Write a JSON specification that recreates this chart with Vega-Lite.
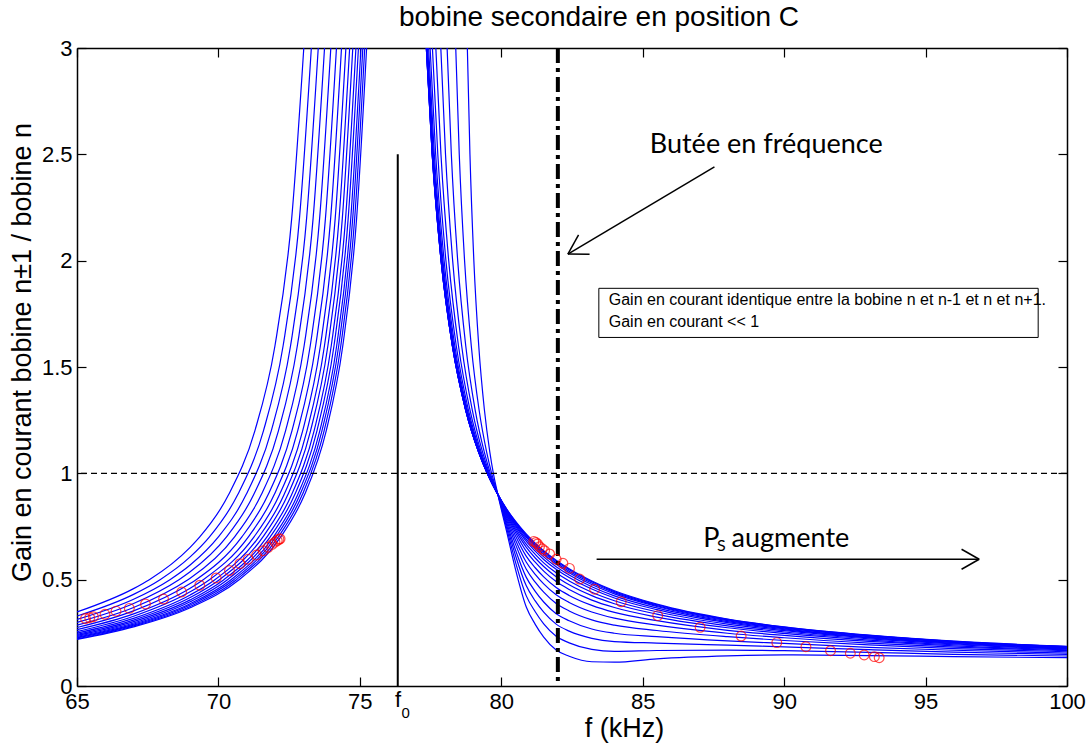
{
"$schema": "https://vega.github.io/schema/vega-lite/v6.json",
"width": 990, "height": 638,
"autosize": {"type": "none"},
"padding": {"left": 77, "top": 48, "right": 21, "bottom": 58},
"background": "white",
"config": {"view": {"stroke": null}, "font": "Liberation Sans",
 "axis": {"grid": false, "domainColor": "black", "domainWidth": 1.5, "tickColor": "black", "tickWidth": 1.2, "tickSize": -9, "labelColor": "black", "labelFont": "Liberation Sans", "labelFontSize": 22, "titleFont": "Liberation Sans", "titleFontSize": 27, "titleFontWeight": "normal", "titleColor": "black", "labelFlush": false, "labelOverlap": false}},
"title": {"text": "bobine secondaire en position C", "font": "Liberation Sans", "fontSize": 28, "fontWeight": "normal", "color": "black", "frame": "group", "offset": 5, "dx": 27},
"datasets": {
"curves": [
{"k":"L0","x":65,"y":0.348},{"k":"L0","x":67,"y":0.458},{"k":"L0","x":67.556,"y":0.5},{"k":"L0","x":69,"y":0.652},{"k":"L0","x":69.333,"y":0.7},{"k":"L0","x":70.362,"y":0.9},{"k":"L0","x":71.288,"y":1.2},{"k":"L0","x":71.999,"y":1.6},{"k":"L0","x":72.591,"y":2.2},{"k":"L0","x":73.018,"y":3},
{"k":"L1","x":65,"y":0.329},{"k":"L1","x":67,"y":0.431},{"k":"L1","x":67.937,"y":0.5},{"k":"L1","x":69,"y":0.607},{"k":"L1","x":69.677,"y":0.7},{"k":"L1","x":70.684,"y":0.9},{"k":"L1","x":71.591,"y":1.2},{"k":"L1","x":72.287,"y":1.6},{"k":"L1","x":72.866,"y":2.2},{"k":"L1","x":73.285,"y":3},
{"k":"L2","x":65,"y":0.313},{"k":"L2","x":67,"y":0.408},{"k":"L2","x":68.286,"y":0.5},{"k":"L2","x":69,"y":0.569},{"k":"L2","x":69.991,"y":0.7},{"k":"L2","x":70.979,"y":0.9},{"k":"L2","x":71.868,"y":1.2},{"k":"L2","x":72.55,"y":1.6},{"k":"L2","x":73.118,"y":2.2},{"k":"L2","x":73.529,"y":3},
{"k":"L3","x":65,"y":0.299},{"k":"L3","x":67,"y":0.388},{"k":"L3","x":68.605,"y":0.5},{"k":"L3","x":69,"y":0.537},{"k":"L3","x":70.279,"y":0.7},{"k":"L3","x":71.248,"y":0.9},{"k":"L3","x":72.121,"y":1.2},{"k":"L3","x":72.79,"y":1.6},{"k":"L3","x":73.348,"y":2.2},{"k":"L3","x":73.751,"y":3},
{"k":"L4","x":65,"y":0.286},{"k":"L4","x":67,"y":0.369},{"k":"L4","x":68.922,"y":0.5},{"k":"L4","x":69,"y":0.507},{"k":"L4","x":70.565,"y":0.7},{"k":"L4","x":71.517,"y":0.9},{"k":"L4","x":72.373,"y":1.2},{"k":"L4","x":73.03,"y":1.6},{"k":"L4","x":73.578,"y":2.2},{"k":"L4","x":73.973,"y":3},
{"k":"L5","x":65,"y":0.275},{"k":"L5","x":67,"y":0.353},{"k":"L5","x":69,"y":0.482},{"k":"L5","x":69.207,"y":0.5},{"k":"L5","x":70.822,"y":0.7},{"k":"L5","x":71.758,"y":0.9},{"k":"L5","x":72.599,"y":1.2},{"k":"L5","x":73.246,"y":1.6},{"k":"L5","x":73.784,"y":2.2},{"k":"L5","x":74.173,"y":3},
{"k":"L6","x":65,"y":0.265},{"k":"L6","x":67,"y":0.339},{"k":"L6","x":69,"y":0.46},{"k":"L6","x":69.462,"y":0.5},{"k":"L6","x":71.053,"y":0.7},{"k":"L6","x":71.973,"y":0.9},{"k":"L6","x":72.802,"y":1.2},{"k":"L6","x":73.438,"y":1.6},{"k":"L6","x":73.968,"y":2.2},{"k":"L6","x":74.351,"y":3},
{"k":"L7","x":65,"y":0.256},{"k":"L7","x":67,"y":0.328},{"k":"L7","x":69,"y":0.443},{"k":"L7","x":69.683,"y":0.5},{"k":"L7","x":71.252,"y":0.7},{"k":"L7","x":72.161,"y":0.9},{"k":"L7","x":72.978,"y":1.2},{"k":"L7","x":73.606,"y":1.6},{"k":"L7","x":74.129,"y":2.2},{"k":"L7","x":74.506,"y":3},
{"k":"L8","x":65,"y":0.249},{"k":"L8","x":67,"y":0.318},{"k":"L8","x":69,"y":0.428},{"k":"L8","x":69.874,"y":0.5},{"k":"L8","x":71.424,"y":0.7},{"k":"L8","x":72.322,"y":0.9},{"k":"L8","x":73.129,"y":1.2},{"k":"L8","x":73.749,"y":1.6},{"k":"L8","x":74.266,"y":2.2},{"k":"L8","x":74.639,"y":3},
{"k":"L9","x":65,"y":0.243},{"k":"L9","x":67,"y":0.31},{"k":"L9","x":69,"y":0.416},{"k":"L9","x":70.034,"y":0.5},{"k":"L9","x":71.568,"y":0.7},{"k":"L9","x":72.456,"y":0.9},{"k":"L9","x":73.256,"y":1.2},{"k":"L9","x":73.87,"y":1.6},{"k":"L9","x":74.381,"y":2.2},{"k":"L9","x":74.75,"y":3},
{"k":"L10","x":65,"y":0.238},{"k":"L10","x":67,"y":0.303},{"k":"L10","x":69,"y":0.405},{"k":"L10","x":70.192,"y":0.5},{"k":"L10","x":71.711,"y":0.7},{"k":"L10","x":72.59,"y":0.9},{"k":"L10","x":73.382,"y":1.2},{"k":"L10","x":73.989,"y":1.6},{"k":"L10","x":74.496,"y":2.2},{"k":"L10","x":74.861,"y":3},
{"k":"L11","x":65,"y":0.233},{"k":"L11","x":67,"y":0.296},{"k":"L11","x":69,"y":0.396},{"k":"L11","x":70.32,"y":0.5},{"k":"L11","x":71.826,"y":0.7},{"k":"L11","x":72.699,"y":0.9},{"k":"L11","x":73.483,"y":1.2},{"k":"L11","x":74.086,"y":1.6},{"k":"L11","x":74.588,"y":2.2},{"k":"L11","x":74.95,"y":3},
{"k":"L12","x":65,"y":0.229},{"k":"L12","x":67,"y":0.291},{"k":"L12","x":69,"y":0.387},{"k":"L12","x":70.445,"y":0.5},{"k":"L12","x":71.94,"y":0.7},{"k":"L12","x":72.805,"y":0.9},{"k":"L12","x":73.583,"y":1.2},{"k":"L12","x":74.181,"y":1.6},{"k":"L12","x":74.679,"y":2.2},{"k":"L12","x":75.039,"y":3},
{"k":"L13","x":65,"y":0.226},{"k":"L13","x":67,"y":0.286},{"k":"L13","x":69,"y":0.381},{"k":"L13","x":70.542,"y":0.5},{"k":"L13","x":72.026,"y":0.7},{"k":"L13","x":72.886,"y":0.9},{"k":"L13","x":73.659,"y":1.2},{"k":"L13","x":74.253,"y":1.6},{"k":"L13","x":74.748,"y":2.2},{"k":"L13","x":75.105,"y":3},
{"k":"L14","x":65,"y":0.222},{"k":"L14","x":67,"y":0.282},{"k":"L14","x":69,"y":0.374},{"k":"L14","x":70.637,"y":0.5},{"k":"L14","x":72.113,"y":0.7},{"k":"L14","x":72.967,"y":0.9},{"k":"L14","x":73.736,"y":1.2},{"k":"L14","x":74.326,"y":1.6},{"k":"L14","x":74.818,"y":2.2},{"k":"L14","x":75.172,"y":3},
{"k":"L15","x":65,"y":0.219},{"k":"L15","x":67,"y":0.278},{"k":"L15","x":69,"y":0.368},{"k":"L15","x":70.732,"y":0.5},{"k":"L15","x":72.198,"y":0.7},{"k":"L15","x":73.047,"y":0.9},{"k":"L15","x":73.811,"y":1.2},{"k":"L15","x":74.397,"y":1.6},{"k":"L15","x":74.886,"y":2.2},{"k":"L15","x":75.239,"y":3},
{"k":"R0","x":78.8,"y":3},{"k":"R0","x":78.892,"y":2.5},{"k":"R0","x":79.03,"y":2},{"k":"R0","x":79.203,"y":1.6},{"k":"R0","x":79.402,"y":1.3},{"k":"R0","x":79.595,"y":1.1},{"k":"R0","x":79.72,"y":1},{"k":"R0","x":79.88,"y":0.9},{"k":"R0","x":80.2,"y":0.72},{"k":"R0","x":80.5,"y":0.55},{"k":"R0","x":80.88,"y":0.373},{"k":"R0","x":81.2,"y":0.29},{"k":"R0","x":81.5,"y":0.23},{"k":"R0","x":81.94,"y":0.169},{"k":"R0","x":82.4,"y":0.14},{"k":"R0","x":83.2,"y":0.114},{"k":"R0","x":84,"y":0.112},{"k":"R0","x":85.5,"y":0.128},{"k":"R0","x":88,"y":0.142},{"k":"R0","x":90,"y":0.146},{"k":"R0","x":93,"y":0.143},{"k":"R0","x":96,"y":0.138},{"k":"R0","x":100,"y":0.133},
{"k":"R1","x":78.39,"y":3},{"k":"R1","x":78.514,"y":2.5},{"k":"R1","x":78.702,"y":2},{"k":"R1","x":78.939,"y":1.6},{"k":"R1","x":79.213,"y":1.3},{"k":"R1","x":79.483,"y":1.1},{"k":"R1","x":79.659,"y":1},{"k":"R1","x":79.88,"y":0.9},{"k":"R1","x":80.2,"y":0.737},{"k":"R1","x":80.5,"y":0.584},{"k":"R1","x":80.88,"y":0.425},{"k":"R1","x":81.2,"y":0.349},{"k":"R1","x":81.5,"y":0.292},{"k":"R1","x":81.94,"y":0.234},{"k":"R1","x":82.4,"y":0.203},{"k":"R1","x":83.2,"y":0.172},{"k":"R1","x":84,"y":0.163},{"k":"R1","x":85.5,"y":0.167},{"k":"R1","x":88,"y":0.169},{"k":"R1","x":90,"y":0.166},{"k":"R1","x":93,"y":0.158},{"k":"R1","x":96,"y":0.149},{"k":"R1","x":100,"y":0.141},
{"k":"R2","x":78.085,"y":3},{"k":"R2","x":78.234,"y":2.5},{"k":"R2","x":78.459,"y":2},{"k":"R2","x":78.743,"y":1.6},{"k":"R2","x":79.074,"y":1.3},{"k":"R2","x":79.4,"y":1.1},{"k":"R2","x":79.613,"y":1},{"k":"R2","x":79.88,"y":0.9},{"k":"R2","x":80.2,"y":0.752},{"k":"R2","x":80.5,"y":0.615},{"k":"R2","x":80.88,"y":0.472},{"k":"R2","x":81.2,"y":0.4},{"k":"R2","x":81.5,"y":0.347},{"k":"R2","x":81.94,"y":0.291},{"k":"R2","x":82.4,"y":0.258},{"k":"R2","x":83.2,"y":0.224},{"k":"R2","x":84,"y":0.209},{"k":"R2","x":85.5,"y":0.202},{"k":"R2","x":88,"y":0.192},{"k":"R2","x":90,"y":0.184},{"k":"R2","x":93,"y":0.171},{"k":"R2","x":96,"y":0.159},{"k":"R2","x":100,"y":0.148},
{"k":"R3","x":77.862,"y":3},{"k":"R3","x":78.028,"y":2.5},{"k":"R3","x":78.281,"y":2},{"k":"R3","x":78.599,"y":1.6},{"k":"R3","x":78.972,"y":1.3},{"k":"R3","x":79.339,"y":1.1},{"k":"R3","x":79.58,"y":1},{"k":"R3","x":79.88,"y":0.9},{"k":"R3","x":80.2,"y":0.765},{"k":"R3","x":80.5,"y":0.641},{"k":"R3","x":80.88,"y":0.512},{"k":"R3","x":81.2,"y":0.445},{"k":"R3","x":81.5,"y":0.395},{"k":"R3","x":81.94,"y":0.34},{"k":"R3","x":82.4,"y":0.307},{"k":"R3","x":83.2,"y":0.268},{"k":"R3","x":84,"y":0.248},{"k":"R3","x":85.5,"y":0.232},{"k":"R3","x":88,"y":0.212},{"k":"R3","x":90,"y":0.2},{"k":"R3","x":93,"y":0.182},{"k":"R3","x":96,"y":0.168},{"k":"R3","x":100,"y":0.155},
{"k":"R4","x":77.686,"y":3},{"k":"R4","x":77.867,"y":2.5},{"k":"R4","x":78.141,"y":2},{"k":"R4","x":78.486,"y":1.6},{"k":"R4","x":78.891,"y":1.3},{"k":"R4","x":79.291,"y":1.1},{"k":"R4","x":79.553,"y":1},{"k":"R4","x":79.88,"y":0.9},{"k":"R4","x":80.2,"y":0.777},{"k":"R4","x":80.5,"y":0.667},{"k":"R4","x":80.88,"y":0.55},{"k":"R4","x":81.2,"y":0.488},{"k":"R4","x":81.5,"y":0.441},{"k":"R4","x":81.94,"y":0.388},{"k":"R4","x":82.4,"y":0.353},{"k":"R4","x":83.2,"y":0.311},{"k":"R4","x":84,"y":0.286},{"k":"R4","x":85.5,"y":0.261},{"k":"R4","x":88,"y":0.232},{"k":"R4","x":90,"y":0.214},{"k":"R4","x":93,"y":0.193},{"k":"R4","x":96,"y":0.176},{"k":"R4","x":100,"y":0.161},
{"k":"R5","x":77.565,"y":3},{"k":"R5","x":77.755,"y":2.5},{"k":"R5","x":78.043,"y":2},{"k":"R5","x":78.408,"y":1.6},{"k":"R5","x":78.835,"y":1.3},{"k":"R5","x":79.258,"y":1.1},{"k":"R5","x":79.535,"y":1},{"k":"R5","x":79.88,"y":0.9},{"k":"R5","x":80.2,"y":0.788},{"k":"R5","x":80.5,"y":0.688},{"k":"R5","x":80.88,"y":0.583},{"k":"R5","x":81.2,"y":0.525},{"k":"R5","x":81.5,"y":0.48},{"k":"R5","x":81.94,"y":0.429},{"k":"R5","x":82.4,"y":0.393},{"k":"R5","x":83.2,"y":0.348},{"k":"R5","x":84,"y":0.319},{"k":"R5","x":85.5,"y":0.286},{"k":"R5","x":88,"y":0.248},{"k":"R5","x":90,"y":0.227},{"k":"R5","x":93,"y":0.202},{"k":"R5","x":96,"y":0.183},{"k":"R5","x":100,"y":0.166},
{"k":"R6","x":77.483,"y":3},{"k":"R6","x":77.68,"y":2.5},{"k":"R6","x":77.979,"y":2},{"k":"R6","x":78.356,"y":1.6},{"k":"R6","x":78.798,"y":1.3},{"k":"R6","x":79.235,"y":1.1},{"k":"R6","x":79.523,"y":1},{"k":"R6","x":79.88,"y":0.9},{"k":"R6","x":80.2,"y":0.797},{"k":"R6","x":80.5,"y":0.707},{"k":"R6","x":80.88,"y":0.611},{"k":"R6","x":81.2,"y":0.556},{"k":"R6","x":81.5,"y":0.513},{"k":"R6","x":81.94,"y":0.463},{"k":"R6","x":82.4,"y":0.426},{"k":"R6","x":83.2,"y":0.379},{"k":"R6","x":84,"y":0.346},{"k":"R6","x":85.5,"y":0.307},{"k":"R6","x":88,"y":0.262},{"k":"R6","x":90,"y":0.238},{"k":"R6","x":93,"y":0.21},{"k":"R6","x":96,"y":0.189},{"k":"R6","x":100,"y":0.17},
{"k":"R7","x":77.431,"y":3},{"k":"R7","x":77.632,"y":2.5},{"k":"R7","x":77.937,"y":2},{"k":"R7","x":78.322,"y":1.6},{"k":"R7","x":78.774,"y":1.3},{"k":"R7","x":79.221,"y":1.1},{"k":"R7","x":79.515,"y":1},{"k":"R7","x":79.88,"y":0.9},{"k":"R7","x":80.2,"y":0.804},{"k":"R7","x":80.5,"y":0.722},{"k":"R7","x":80.88,"y":0.634},{"k":"R7","x":81.2,"y":0.582},{"k":"R7","x":81.5,"y":0.54},{"k":"R7","x":81.94,"y":0.491},{"k":"R7","x":82.4,"y":0.454},{"k":"R7","x":83.2,"y":0.404},{"k":"R7","x":84,"y":0.369},{"k":"R7","x":85.5,"y":0.324},{"k":"R7","x":88,"y":0.274},{"k":"R7","x":90,"y":0.247},{"k":"R7","x":93,"y":0.216},{"k":"R7","x":96,"y":0.194},{"k":"R7","x":100,"y":0.173},
{"k":"R8","x":77.398,"y":3},{"k":"R8","x":77.601,"y":2.5},{"k":"R8","x":77.91,"y":2},{"k":"R8","x":78.301,"y":1.6},{"k":"R8","x":78.759,"y":1.3},{"k":"R8","x":79.212,"y":1.1},{"k":"R8","x":79.51,"y":1},{"k":"R8","x":79.88,"y":0.9},{"k":"R8","x":80.2,"y":0.81},{"k":"R8","x":80.5,"y":0.734},{"k":"R8","x":80.88,"y":0.653},{"k":"R8","x":81.2,"y":0.602},{"k":"R8","x":81.5,"y":0.562},{"k":"R8","x":81.94,"y":0.514},{"k":"R8","x":82.4,"y":0.476},{"k":"R8","x":83.2,"y":0.425},{"k":"R8","x":84,"y":0.387},{"k":"R8","x":85.5,"y":0.338},{"k":"R8","x":88,"y":0.283},{"k":"R8","x":90,"y":0.254},{"k":"R8","x":93,"y":0.222},{"k":"R8","x":96,"y":0.198},{"k":"R8","x":100,"y":0.176},
{"k":"R9","x":77.378,"y":3},{"k":"R9","x":77.583,"y":2.5},{"k":"R9","x":77.895,"y":2},{"k":"R9","x":78.288,"y":1.6},{"k":"R9","x":78.75,"y":1.3},{"k":"R9","x":79.207,"y":1.1},{"k":"R9","x":79.507,"y":1},{"k":"R9","x":79.88,"y":0.9},{"k":"R9","x":80.2,"y":0.815},{"k":"R9","x":80.5,"y":0.744},{"k":"R9","x":80.88,"y":0.667},{"k":"R9","x":81.2,"y":0.619},{"k":"R9","x":81.5,"y":0.579},{"k":"R9","x":81.94,"y":0.532},{"k":"R9","x":82.4,"y":0.494},{"k":"R9","x":83.2,"y":0.441},{"k":"R9","x":84,"y":0.401},{"k":"R9","x":85.5,"y":0.349},{"k":"R9","x":88,"y":0.291},{"k":"R9","x":90,"y":0.26},{"k":"R9","x":93,"y":0.226},{"k":"R9","x":96,"y":0.201},{"k":"R9","x":100,"y":0.179},
{"k":"R10","x":77.365,"y":3},{"k":"R10","x":77.57,"y":2.5},{"k":"R10","x":77.884,"y":2},{"k":"R10","x":78.279,"y":1.6},{"k":"R10","x":78.744,"y":1.3},{"k":"R10","x":79.203,"y":1.1},{"k":"R10","x":79.505,"y":1},{"k":"R10","x":79.88,"y":0.9},{"k":"R10","x":80.2,"y":0.819},{"k":"R10","x":80.5,"y":0.753},{"k":"R10","x":80.88,"y":0.681},{"k":"R10","x":81.2,"y":0.634},{"k":"R10","x":81.5,"y":0.595},{"k":"R10","x":81.94,"y":0.549},{"k":"R10","x":82.4,"y":0.51},{"k":"R10","x":83.2,"y":0.456},{"k":"R10","x":84,"y":0.414},{"k":"R10","x":85.5,"y":0.359},{"k":"R10","x":88,"y":0.298},{"k":"R10","x":90,"y":0.265},{"k":"R10","x":93,"y":0.229},{"k":"R10","x":96,"y":0.204},{"k":"R10","x":100,"y":0.181},
{"k":"R11","x":77.357,"y":3},{"k":"R11","x":77.564,"y":2.5},{"k":"R11","x":77.878,"y":2},{"k":"R11","x":78.275,"y":1.6},{"k":"R11","x":78.74,"y":1.3},{"k":"R11","x":79.201,"y":1.1},{"k":"R11","x":79.504,"y":1},{"k":"R11","x":79.88,"y":0.9},{"k":"R11","x":80.2,"y":0.822},{"k":"R11","x":80.5,"y":0.759},{"k":"R11","x":80.88,"y":0.691},{"k":"R11","x":81.2,"y":0.645},{"k":"R11","x":81.5,"y":0.607},{"k":"R11","x":81.94,"y":0.561},{"k":"R11","x":82.4,"y":0.522},{"k":"R11","x":83.2,"y":0.467},{"k":"R11","x":84,"y":0.424},{"k":"R11","x":85.5,"y":0.367},{"k":"R11","x":88,"y":0.303},{"k":"R11","x":90,"y":0.269},{"k":"R11","x":93,"y":0.232},{"k":"R11","x":96,"y":0.206},{"k":"R11","x":100,"y":0.182},
{"k":"R12","x":77.353,"y":3},{"k":"R12","x":77.56,"y":2.5},{"k":"R12","x":77.874,"y":2},{"k":"R12","x":78.272,"y":1.6},{"k":"R12","x":78.738,"y":1.3},{"k":"R12","x":79.2,"y":1.1},{"k":"R12","x":79.503,"y":1},{"k":"R12","x":79.88,"y":0.9},{"k":"R12","x":80.2,"y":0.825},{"k":"R12","x":80.5,"y":0.765},{"k":"R12","x":80.88,"y":0.7},{"k":"R12","x":81.2,"y":0.655},{"k":"R12","x":81.5,"y":0.618},{"k":"R12","x":81.94,"y":0.573},{"k":"R12","x":82.4,"y":0.533},{"k":"R12","x":83.2,"y":0.477},{"k":"R12","x":84,"y":0.433},{"k":"R12","x":85.5,"y":0.374},{"k":"R12","x":88,"y":0.307},{"k":"R12","x":90,"y":0.272},{"k":"R12","x":93,"y":0.235},{"k":"R12","x":96,"y":0.208},{"k":"R12","x":100,"y":0.184},
{"k":"R13","x":77.351,"y":3},{"k":"R13","x":77.558,"y":2.5},{"k":"R13","x":77.873,"y":2},{"k":"R13","x":78.271,"y":1.6},{"k":"R13","x":78.737,"y":1.3},{"k":"R13","x":79.199,"y":1.1},{"k":"R13","x":79.503,"y":1},{"k":"R13","x":79.88,"y":0.9},{"k":"R13","x":80.2,"y":0.827},{"k":"R13","x":80.5,"y":0.769},{"k":"R13","x":80.88,"y":0.706},{"k":"R13","x":81.2,"y":0.662},{"k":"R13","x":81.5,"y":0.626},{"k":"R13","x":81.94,"y":0.58},{"k":"R13","x":82.4,"y":0.54},{"k":"R13","x":83.2,"y":0.484},{"k":"R13","x":84,"y":0.439},{"k":"R13","x":85.5,"y":0.378},{"k":"R13","x":88,"y":0.311},{"k":"R13","x":90,"y":0.275},{"k":"R13","x":93,"y":0.237},{"k":"R13","x":96,"y":0.209},{"k":"R13","x":100,"y":0.185},
{"k":"R14","x":77.35,"y":3},{"k":"R14","x":77.557,"y":2.5},{"k":"R14","x":77.872,"y":2},{"k":"R14","x":78.27,"y":1.6},{"k":"R14","x":78.737,"y":1.3},{"k":"R14","x":79.199,"y":1.1},{"k":"R14","x":79.503,"y":1},{"k":"R14","x":79.88,"y":0.9},{"k":"R14","x":80.2,"y":0.829},{"k":"R14","x":80.5,"y":0.773},{"k":"R14","x":80.88,"y":0.711},{"k":"R14","x":81.2,"y":0.668},{"k":"R14","x":81.5,"y":0.632},{"k":"R14","x":81.94,"y":0.587},{"k":"R14","x":82.4,"y":0.547},{"k":"R14","x":83.2,"y":0.49},{"k":"R14","x":84,"y":0.444},{"k":"R14","x":85.5,"y":0.382},{"k":"R14","x":88,"y":0.313},{"k":"R14","x":90,"y":0.277},{"k":"R14","x":93,"y":0.238},{"k":"R14","x":96,"y":0.21},{"k":"R14","x":100,"y":0.185},
{"k":"R15","x":77.35,"y":3},{"k":"R15","x":77.557,"y":2.5},{"k":"R15","x":77.872,"y":2},{"k":"R15","x":78.27,"y":1.6},{"k":"R15","x":78.737,"y":1.3},{"k":"R15","x":79.199,"y":1.1},{"k":"R15","x":79.503,"y":1},{"k":"R15","x":79.88,"y":0.9},{"k":"R15","x":80.2,"y":0.83},{"k":"R15","x":80.5,"y":0.775},{"k":"R15","x":80.88,"y":0.715},{"k":"R15","x":81.2,"y":0.672},{"k":"R15","x":81.5,"y":0.636},{"k":"R15","x":81.94,"y":0.591},{"k":"R15","x":82.4,"y":0.551},{"k":"R15","x":83.2,"y":0.494},{"k":"R15","x":84,"y":0.448},{"k":"R15","x":85.5,"y":0.385},{"k":"R15","x":88,"y":0.315},{"k":"R15","x":90,"y":0.278},{"k":"R15","x":93,"y":0.239},{"k":"R15","x":96,"y":0.211},{"k":"R15","x":100,"y":0.186}
],
"circles": [
{"x":65.3,"y":0.317},{"x":65.45,"y":0.321},{"x":65.58,"y":0.326},{"x":65.99,"y":0.337},{"x":66.38,"y":0.352},{"x":66.85,"y":0.365},{"x":67.42,"y":0.386},{"x":68.06,"y":0.409},{"x":68.7,"y":0.442},{"x":69.34,"y":0.474},{"x":69.92,"y":0.508},{"x":70.39,"y":0.543},{"x":70.76,"y":0.575},{"x":71.05,"y":0.596},{"x":71.35,"y":0.616},{"x":71.58,"y":0.636},{"x":71.76,"y":0.652},{"x":71.9,"y":0.666},{"x":72.0,"y":0.676},{"x":72.08,"y":0.684},{"x":72.14,"y":0.69},{"x":72.18,"y":0.692},
{"x":81.15,"y":0.68},{"x":81.22,"y":0.675},{"x":81.28,"y":0.668},{"x":81.35,"y":0.655},{"x":81.45,"y":0.645},{"x":81.53,"y":0.636},{"x":81.71,"y":0.621},{"x":81.94,"y":0.596},{"x":82.18,"y":0.577},{"x":82.41,"y":0.553},{"x":82.77,"y":0.503},{"x":83.3,"y":0.455},{"x":84.24,"y":0.396},{"x":85.53,"y":0.331},{"x":87.03,"y":0.276},{"x":88.48,"y":0.235},{"x":89.74,"y":0.204},{"x":90.77,"y":0.185},{"x":91.64,"y":0.166},{"x":92.34,"y":0.154},{"x":92.83,"y":0.146},{"x":93.19,"y":0.138},{"x":93.36,"y":0.133}
]
},
"layer": [
{"data": {"name": "curves"},
 "mark": {"type": "line", "color": "#0000ff", "strokeWidth": 1.2, "interpolate": "monotone", "clip": true},
 "encoding": {
  "x": {"field": "x", "type": "quantitative", "scale": {"domain": [65, 100], "nice": false, "zero": false},
        "axis": {"orient": "bottom", "values": [65,70,75,80,85,90,95,100], "format": "d", "labelPadding": 14, "title": "f (kHz)", "titlePadding": 3, "titleX": 547}},
  "y": {"field": "y", "type": "quantitative", "scale": {"domain": [0, 3], "nice": false, "zero": false},
        "axis": {"orient": "left", "values": [0,0.5,1,1.5,2,2.5,3], "format": "~g", "labelPadding": 14, "title": "Gain en courant bobine n±1 / bobine n", "titlePadding": 5, "titleY": 304}},
  "detail": {"field": "k"}
 }},
{"data": {"values": [{"y": 1}]},
 "mark": {"type": "rule", "color": "black", "strokeWidth": 1.2, "strokeDash": [6, 4]},
 "encoding": {"y": {"field": "y", "type": "quantitative", "axis": null}}},
{"data": {"values": [{"x": 82}]},
 "mark": {"type": "rule", "color": "black", "strokeWidth": 4, "strokeDash": [15, 5, 4, 5]},
 "encoding": {"x": {"field": "x", "type": "quantitative", "axis": null}}},
{"data": {"values": [{"x": 76.34, "y": 0, "y2": 2.5}]},
 "mark": {"type": "rule", "color": "black", "strokeWidth": 2},
 "encoding": {"x": {"field": "x", "type": "quantitative", "axis": null}, "y": {"field": "y", "type": "quantitative", "axis": null}, "y2": {"field": "y2"}}},
{"data": {"values": [
  {"x": 87.536, "y": 2.441, "x2": 82.354, "y2": 2.031},
  {"x": 82.354, "y": 2.031, "x2": 83.121, "y2": 2.03},
  {"x": 82.354, "y": 2.031, "x2": 82.732, "y2": 2.121},
  {"x": 83.37, "y": 0.596, "x2": 96.895, "y2": 0.596},
  {"x": 96.895, "y": 0.596, "x2": 96.273, "y2": 0.643},
  {"x": 96.895, "y": 0.596, "x2": 96.273, "y2": 0.549}
 ]},
 "mark": {"type": "rule", "color": "black", "strokeWidth": 1.5},
 "encoding": {"x": {"field": "x", "type": "quantitative", "axis": null}, "y": {"field": "y", "type": "quantitative", "axis": null}, "x2": {"field": "x2"}, "y2": {"field": "y2"}}},
{"data": {"values": [{"x": 83.449, "x2": 98.981, "y": 1.87, "y2": 1.639}]},
 "mark": {"type": "rect", "fill": "white", "stroke": "black", "strokeWidth": 1},
 "encoding": {"x": {"field": "x", "type": "quantitative", "axis": null}, "x2": {"field": "x2"}, "y": {"field": "y", "type": "quantitative", "axis": null}, "y2": {"field": "y2"}}},
{"data": {"values": [
  {"x": 83.8, "y": 1.791, "t": "Gain en courant identique entre la bobine n et n-1 et n et n+1."},
  {"x": 83.8, "y": 1.689, "t": "Gain en courant << 1"}
 ]},
 "mark": {"type": "text", "font": "Liberation Sans", "fontSize": 16, "align": "left", "baseline": "alphabetic", "color": "black"},
 "encoding": {"x": {"field": "x", "type": "quantitative", "axis": null}, "y": {"field": "y", "type": "quantitative", "axis": null}, "text": {"field": "t"}}},
{"data": {"values": [
  {"x": 85.25, "y": 2.507, "t": "Butée en fréquence"},
  {"x": 87.14, "y": 0.655, "t": "P"},
  {"x": 88.14, "y": 0.655, "t": "augmente"}
 ]},
 "mark": {"type": "text", "font": "Lato", "fontSize": 27, "align": "left", "baseline": "alphabetic", "color": "black"},
 "encoding": {"x": {"field": "x", "type": "quantitative", "axis": null}, "y": {"field": "y", "type": "quantitative", "axis": null}, "text": {"field": "t"}}},
{"data": {"values": [{"x": 87.63, "y": 0.636, "t": "S"}]},
 "mark": {"type": "text", "font": "Lato", "fontSize": 16, "align": "left", "baseline": "alphabetic", "color": "black"},
 "encoding": {"x": {"field": "x", "type": "quantitative", "axis": null}, "y": {"field": "y", "type": "quantitative", "axis": null}, "text": {"field": "t"}}},
{"data": {"values": [{"x": 76.24, "y": -0.097, "t": "f"}]},
 "mark": {"type": "text", "font": "Liberation Sans", "fontSize": 22, "align": "left", "baseline": "alphabetic", "color": "black"},
 "encoding": {"x": {"field": "x", "type": "quantitative", "axis": null}, "y": {"field": "y", "type": "quantitative", "axis": null}, "text": {"field": "t"}}},
{"data": {"values": [{"x": 76.47, "y": -0.152, "t": "0"}]},
 "mark": {"type": "text", "font": "Liberation Sans", "fontSize": 15, "align": "left", "baseline": "alphabetic", "color": "black"},
 "encoding": {"x": {"field": "x", "type": "quantitative", "axis": null}, "y": {"field": "y", "type": "quantitative", "axis": null}, "text": {"field": "t"}}},
{"data": {"name": "circles"},
 "mark": {"type": "point", "shape": "circle", "filled": false, "color": "red", "size": 95, "strokeWidth": 1.2},
 "encoding": {
  "x": {"field": "x", "type": "quantitative", "axis": {"orient": "top", "values": [65,70,75,80,85,90,95,100], "labels": false, "title": null}},
  "y": {"field": "y", "type": "quantitative", "axis": {"orient": "right", "values": [0,0.5,1,1.5,2,2.5,3], "labels": false, "title": null}}
 }}
],
"resolve": {"axis": {"x": "independent", "y": "independent"}}
}
